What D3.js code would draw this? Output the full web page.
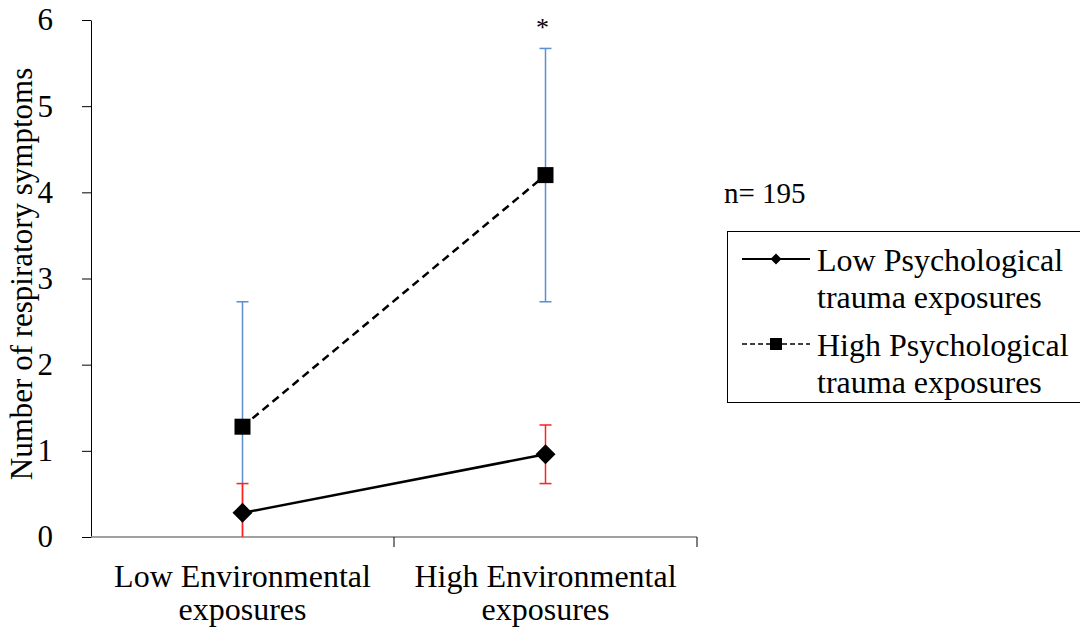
<!DOCTYPE html>
<html>
<head>
<meta charset="utf-8">
<script src="https://cdn.jsdelivr.net/npm/d3@7"></script>
<style>
  body { margin: 0; background: #fff; }
  text { font-family: "Liberation Serif", "Times New Roman", serif; fill: #000; }
</style>
</head>
<body>
<script>
// categories along x
var categories = ["Low Environmental|exposures", "High Environmental|exposures"];
// series means and error (+/-)
var lowPsych = [0.28, 0.96];
var lowPsychErr = [0.34, 0.34];
var highPsych = [1.28, 4.2];
var highPsychErr = [1.45, 1.47];
var yTicks = [0, 1, 2, 3, 4, 5, 6];
var seriesNames = ["Low Psychological|trauma exposures", "High Psychological|trauma exposures"];

var w = 1080, h = 628;

var svg = d3.select("body").append("svg")
  .attr("width", w)
  .attr("height", h);

var x = d3.scaleBand().domain(categories).range([91, 697]);
var y = d3.scaleLinear().domain([0, 6]).range([537, 20]);

// y axis
var yAxis = svg.append("g")
  .attr("transform", "translate(91,0)")
  .call(d3.axisLeft(y).tickValues(yTicks).tickFormat(d3.format("d"))
    .tickSize(9).tickSizeOuter(0).tickPadding(29));
yAxis.select(".domain").attr("stroke", "#000").attr("stroke-width", 1);
yAxis.selectAll(".tick line").attr("stroke", "#000");
yAxis.selectAll(".tick text")
  .style("font-size", "31px")
  .style("font-family", "Liberation Serif")
  .attr("fill", "#000");

// x axis (tick marks sit between categories)
var xAxis = svg.append("g").attr("transform", "translate(0,537)");
xAxis.append("line")
  .attr("x1", 91).attr("x2", 697)
  .attr("stroke", "#808080").attr("stroke-width", 1.5);
xAxis.selectAll("line.tk")
  .data(categories)
  .enter().append("line")
  .attr("class", "tk")
  .attr("x1", function(d) { return x(d) + x.bandwidth(); })
  .attr("x2", function(d) { return x(d) + x.bandwidth(); })
  .attr("y1", 0).attr("y2", 10)
  .attr("stroke", "#000");
xAxis.selectAll("text.cat")
  .data(categories)
  .enter().append("text")
  .attr("class", "cat")
  .attr("text-anchor", "middle")
  .attr("x", function(d) { return x(d) + x.bandwidth() / 2; })
  .attr("y", 50)
  .style("font-size", "32px")
  .each(function(d) {
    var parts = d.split("|");
    var t = d3.select(this);
    parts.forEach(function(p, i) {
      t.append("tspan")
        .attr("x", x(d) + x.bandwidth() / 2)
        .attr("dy", i === 0 ? 0 : 33)
        .text(p);
    });
  });

// y axis title
svg.append("text")
  .attr("transform", "translate(32,274) rotate(-90)")
  .attr("text-anchor", "middle")
  .style("font-size", "31px")
  .text("Number of respiratory symptoms");

function cx(i) { return x(categories[i]) + x.bandwidth() / 2; }

function errorBars(vals, errs, color) {
  var g = svg.append("g");
  vals.forEach(function(v, i) {
    var top = y(v + errs[i]);
    var bot = y(Math.max(0, v - errs[i]));
    g.append("line")
      .attr("x1", cx(i)).attr("x2", cx(i))
      .attr("y1", top).attr("y2", bot)
      .attr("stroke", color).attr("stroke-width", 1.5);
    g.append("line")
      .attr("x1", cx(i) - 6).attr("x2", cx(i) + 6)
      .attr("y1", top).attr("y2", top)
      .attr("stroke", color).attr("stroke-width", 1.5);
    if (v - errs[i] > 0) {
      g.append("line")
        .attr("x1", cx(i) - 6).attr("x2", cx(i) + 6)
        .attr("y1", bot).attr("y2", bot)
        .attr("stroke", color).attr("stroke-width", 1.5);
    }
  });
}

errorBars(highPsych, highPsychErr, "#5b8fd0");
errorBars(lowPsych, lowPsychErr, "#ff2020");

var line = d3.line()
  .x(function(d, i) { return cx(i); })
  .y(function(d) { return y(d); });

svg.append("path")
  .datum(lowPsych)
  .attr("d", line)
  .attr("fill", "none")
  .attr("stroke", "#000")
  .attr("stroke-width", 2.5);

svg.append("path")
  .datum(highPsych)
  .attr("d", line)
  .attr("fill", "none")
  .attr("stroke", "#000")
  .attr("stroke-width", 2.5)
  .attr("stroke-dasharray", "8,5");

svg.selectAll("path.dia")
  .data(lowPsych)
  .enter().append("path")
  .attr("class", "dia")
  .attr("d", d3.symbol().type(d3.symbolSquare).size(200)())
  .attr("transform", function(d, i) { return "translate(" + cx(i) + "," + y(d) + ") rotate(45)"; })
  .attr("fill", "#000");

svg.selectAll("rect.sq")
  .data(highPsych)
  .enter().append("rect")
  .attr("class", "sq")
  .attr("x", function(d, i) { return cx(i) - 8; })
  .attr("y", function(d) { return y(d) - 8; })
  .attr("width", 16).attr("height", 16)
  .attr("fill", "#000");

// significance marker
svg.append("text")
  .attr("x", cx(1) - 3)
  .attr("y", y(highPsych[1] + highPsychErr[1]) - 12)
  .attr("text-anchor", "middle")
  .style("font-size", "26px")
  .text("*");

// n label
svg.append("text")
  .attr("x", 724).attr("y", 203)
  .style("font-size", "29px")
  .text("n= 195");

// legend
var leg = svg.append("g");
leg.append("rect")
  .attr("x", 727.5).attr("y", 231.5)
  .attr("width", 360).attr("height", 171)
  .attr("fill", "none").attr("stroke", "#000").attr("stroke-width", 1);

var legY = [259, 344];
seriesNames.forEach(function(s, i) {
  var yy = legY[i];
  leg.append("line")
    .attr("x1", 742).attr("x2", 810)
    .attr("y1", yy).attr("y2", yy)
    .attr("stroke", "#000").attr("stroke-width", i === 0 ? 2 : 1.5)
    .attr("stroke-dasharray", i === 0 ? null : "5,3");
  if (i === 0) {
    leg.append("path")
      .attr("d", d3.symbol().type(d3.symbolSquare).size(60)())
      .attr("transform", "translate(776," + yy + ") rotate(45)")
      .attr("fill", "#000");
  } else {
    leg.append("rect")
      .attr("x", 770).attr("y", yy - 6)
      .attr("width", 12).attr("height", 12)
      .attr("fill", "#000");
  }
  var t = leg.append("text")
    .attr("x", 817).attr("y", yy + 12)
    .style("font-size", "32px");
  s.split("|").forEach(function(p, j) {
    t.append("tspan").attr("x", 817).attr("dy", j === 0 ? 0 : 37).text(p);
  });
});
</script>
</body>
</html>
